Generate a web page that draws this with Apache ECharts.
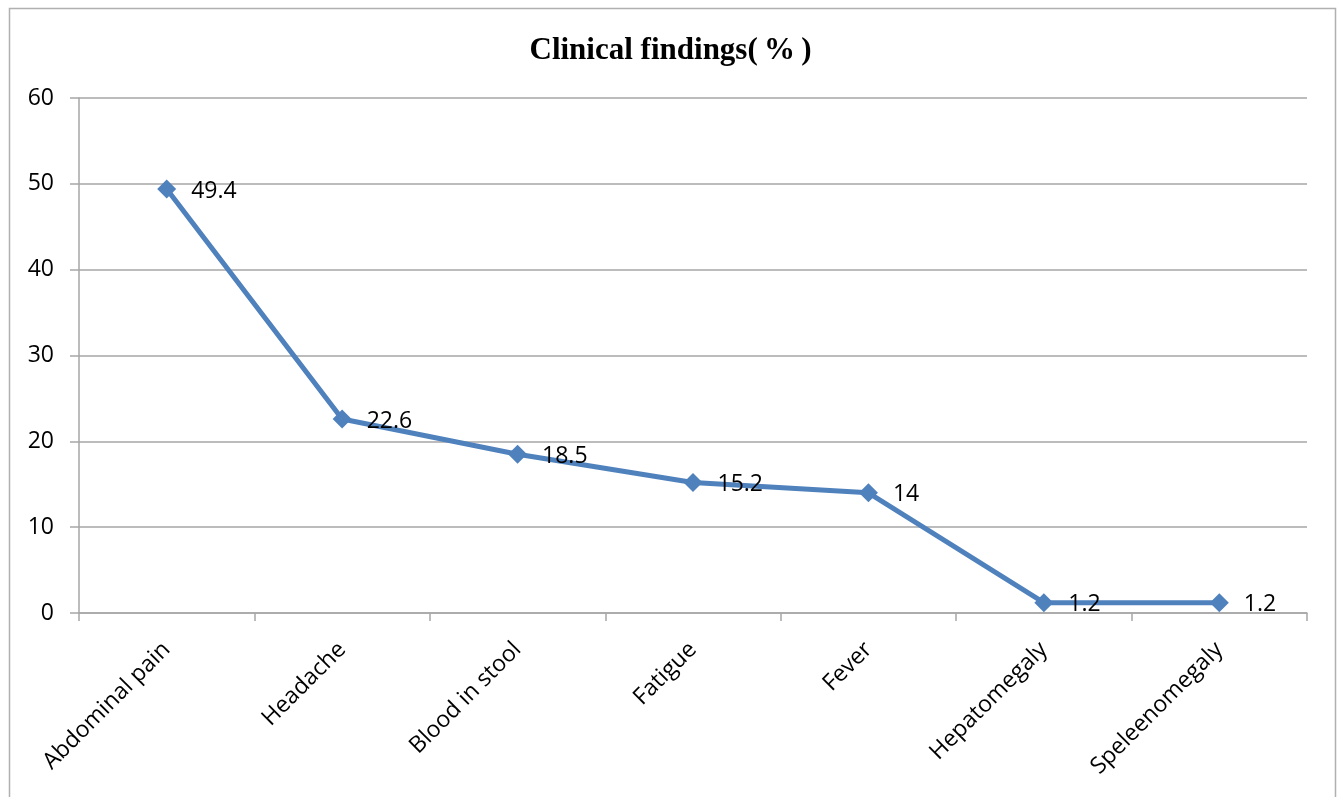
<!DOCTYPE html>
<html>
<head>
<meta charset="utf-8">
<script src="https://cdn.jsdelivr.net/npm/echarts@6/dist/echarts.min.js"></script>
<style>
  html, body { margin: 0; padding: 0; background: #fff; }
  #chart { width: 1341px; height: 797px; }
</style>
</head>
<body>
<div id="chart"></div>
<script>
// data
var categories = ["Abdominal pain", "Headache", "Blood in stool", "Fatigue", "Fever", "Hepatomegaly", "Speleenomegaly"];
var findings = [49.4, 22.6, 18.5, 15.2, 14, 1.2, 1.2];
var yTicks = { min: 0, max: 60, step: 10 };

var chart = echarts.init(document.getElementById("chart"));
var gray = "#a6a6a6";
var option = {
  backgroundColor: "#fff",
  animation: false,
  title: {
    text: "Clinical findings(\u2009%\u2009)",
    left: "center",
    top: 30,
    textStyle: {
      fontFamily: "Liberation Serif",
      fontWeight: "bold",
      fontSize: 31,
      color: "#000"
    }
  },
  graphic: [
    {
      type: "rect",
      shape: { x: 9.5, y: 8.5, width: 1326, height: 800 },
      style: { fill: "none", stroke: "#b0b0b0", lineWidth: 1.5 },
      silent: true
    }
  ],
  grid: { left: 79, right: 34, top: 98, bottom: 184 },
  xAxis: {
    type: "category",
    data: categories,
    boundaryGap: true,
    axisLine: { show: true, lineStyle: { color: gray, width: 1.5 } },
    axisTick: { show: true, length: 8, interval: 0, lineStyle: { color: gray, width: 1.5 } },
    axisLabel: {
      interval: 0,
      rotate: 45,
      margin: 33,
      color: "#000",
      fontFamily: "Open Sans",
      fontSize: 23
    }
  },
  yAxis: {
    type: "value",
    min: yTicks.min,
    max: yTicks.max,
    interval: yTicks.step,
    axisLine: { show: true, lineStyle: { color: gray, width: 1.5 } },
    axisTick: { show: true, length: 9, lineStyle: { color: gray, width: 1.5 } },
    splitLine: { show: true, lineStyle: { color: gray, width: 1.5 } },
    axisLabel: {
      margin: 25,
      color: "#000",
      fontFamily: "Open Sans",
      fontSize: 23
    }
  },
  series: [
    {
      type: "line",
      data: findings,
      symbol: "diamond",
      symbolSize: 19,
      lineStyle: { color: "#4f81bd", width: 5 },
      itemStyle: { color: "#4f81bd" },
      label: {
        show: true,
        position: "right",
        distance: 15,
        offset: [0, 2],
        color: "#000",
        fontFamily: "Open Sans",
        fontSize: 23
      }
    }
  ]
};
chart.setOption(option);
</script>
</body>
</html>
